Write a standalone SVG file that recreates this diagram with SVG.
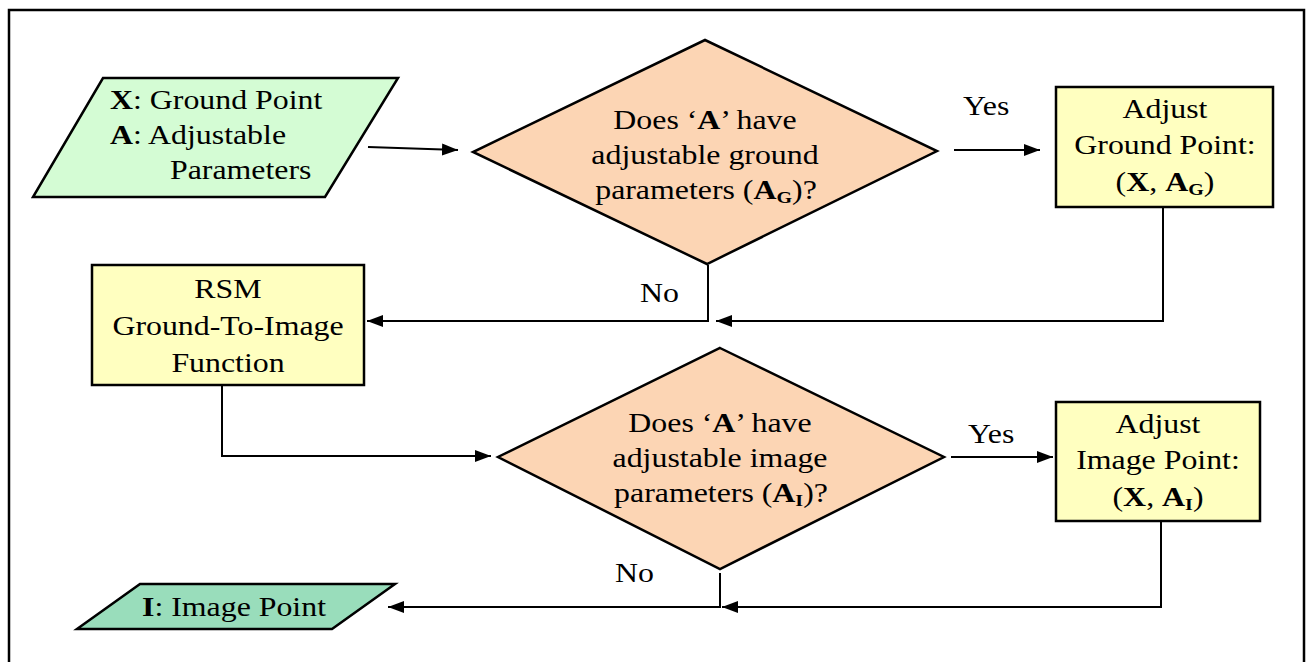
<svg xmlns="http://www.w3.org/2000/svg" width="1307" height="662" viewBox="0 0 1307 662">
  <style>
    .shape { stroke: #000; stroke-width: 2.5; stroke-linejoin: miter; }
    .in { fill: #d4fcd4; }
    .out { fill: #99ddbb; }
    .dec { fill: #fcd5b4; }
    .proc { fill: #ffffc0; }
    .wire { fill: none; stroke: #000; stroke-width: 2; }
    text { font-family: "Liberation Serif", "Times New Roman", serif; font-size: 27px; fill: #000; }
    .c { text-anchor: middle; }
    .b { font-weight: bold; }
    .sub { font-size: 17px; font-weight: bold; }
  </style>
  <defs>
    <marker id="arrow" markerUnits="userSpaceOnUse" markerWidth="17" markerHeight="13" refX="16" refY="6" orient="auto">
      <path d="M0,0 L16,6 L0,12 z" fill="#000"/>
    </marker>
  </defs>

  <!-- frame -->
  <path d="M9,662 V10 H1304 V662" fill="none" stroke="#000" stroke-width="2.5"/>

  <!-- connectors -->
  <g id="connectors">
    <path class="wire" d="M368,147 L458,150" marker-end="url(#arrow)"/>
    <path class="wire" d="M954,150 H1040" marker-end="url(#arrow)"/>
    <path class="wire" d="M1163,207 V321 H716" marker-end="url(#arrow)"/>
    <path class="wire" d="M708,265 V321 H367" marker-end="url(#arrow)"/>
    <path class="wire" d="M222,385 V456 H491" marker-end="url(#arrow)"/>
    <path class="wire" d="M951,457 H1053" marker-end="url(#arrow)"/>
    <path class="wire" d="M1161,521 V607 H722" marker-end="url(#arrow)"/>
    <path class="wire" d="M720,573 V607 H388" marker-end="url(#arrow)"/>
  </g>

  <!-- input: ground point and parameters -->
  <g id="input">
    <polygon class="shape in" points="103,78 398,78 325,197 33,197"/>
    <text transform="translate(110,109) scale(1.18,1)"><tspan class="b">X</tspan>: Ground Point</text>
    <text transform="translate(110,144) scale(1.18,1)"><tspan class="b">A</tspan>: Adjustable</text>
    <text transform="translate(170,179) scale(1.18,1)">Parameters</text>
  </g>

  <!-- decision: ground parameters -->
  <g id="decision-ground">
    <polygon class="shape dec" points="705,40 937,151 707,264 473,152"/>
    <text class="c" transform="translate(705,129) scale(1.18,1)">Does ‘<tspan class="b">A</tspan>’ have</text>
    <text class="c" transform="translate(705,164) scale(1.18,1)">adjustable ground</text>
    <text class="c" transform="translate(706,199) scale(1.18,1)">parameters (<tspan class="b">A</tspan><tspan class="sub" dy="4">G</tspan><tspan dy="-4">)?</tspan></text>
    <text transform="translate(963,115) scale(1.18,1)">Yes</text>
    <text transform="translate(640,302) scale(1.18,1)">No</text>
  </g>

  <!-- process: adjust ground point -->
  <g id="adjust-ground">
    <rect class="shape proc" x="1056" y="87" width="217" height="120"/>
    <text class="c" transform="translate(1165,118) scale(1.18,1)">Adjust</text>
    <text class="c" transform="translate(1165,154) scale(1.18,1)">Ground Point:</text>
    <text class="c" transform="translate(1165,191) scale(1.18,1)">(<tspan class="b">X</tspan>, <tspan class="b">A</tspan><tspan class="sub" dy="4">G</tspan><tspan dy="-4">)</tspan></text>
  </g>

  <!-- process: RSM ground-to-image -->
  <g id="rsm">
    <rect class="shape proc" x="92" y="265" width="272" height="120"/>
    <text class="c" transform="translate(228,298) scale(1.18,1)">RSM</text>
    <text class="c" transform="translate(228,335) scale(1.18,1)">Ground-To-Image</text>
    <text class="c" transform="translate(228,372) scale(1.18,1)">Function</text>
  </g>

  <!-- decision: image parameters -->
  <g id="decision-image">
    <polygon class="shape dec" points="720,348 944,457 720,569 498,457"/>
    <text class="c" transform="translate(720,432) scale(1.18,1)">Does ‘<tspan class="b">A</tspan>’ have</text>
    <text class="c" transform="translate(720,467) scale(1.18,1)">adjustable image</text>
    <text class="c" transform="translate(721,502) scale(1.18,1)">parameters (<tspan class="b">A</tspan><tspan class="sub" dy="4">I</tspan><tspan dy="-4">)?</tspan></text>
    <text transform="translate(968,443) scale(1.18,1)">Yes</text>
    <text transform="translate(615,582) scale(1.18,1)">No</text>
  </g>

  <!-- process: adjust image point -->
  <g id="adjust-image">
    <rect class="shape proc" x="1056" y="402" width="204" height="119"/>
    <text class="c" transform="translate(1158,433) scale(1.18,1)">Adjust</text>
    <text class="c" transform="translate(1158,469) scale(1.18,1)">Image Point:</text>
    <text class="c" transform="translate(1158,506) scale(1.18,1)">(<tspan class="b">X</tspan>, <tspan class="b">A</tspan><tspan class="sub" dy="4">I</tspan><tspan dy="-4">)</tspan></text>
  </g>

  <!-- output: image point -->
  <g id="output">
    <polygon class="shape out" points="140,584 395,584 332,629 77,629"/>
    <text transform="translate(142,616) scale(1.18,1)"><tspan class="b">I</tspan>: Image Point</text>
  </g>
</svg>
